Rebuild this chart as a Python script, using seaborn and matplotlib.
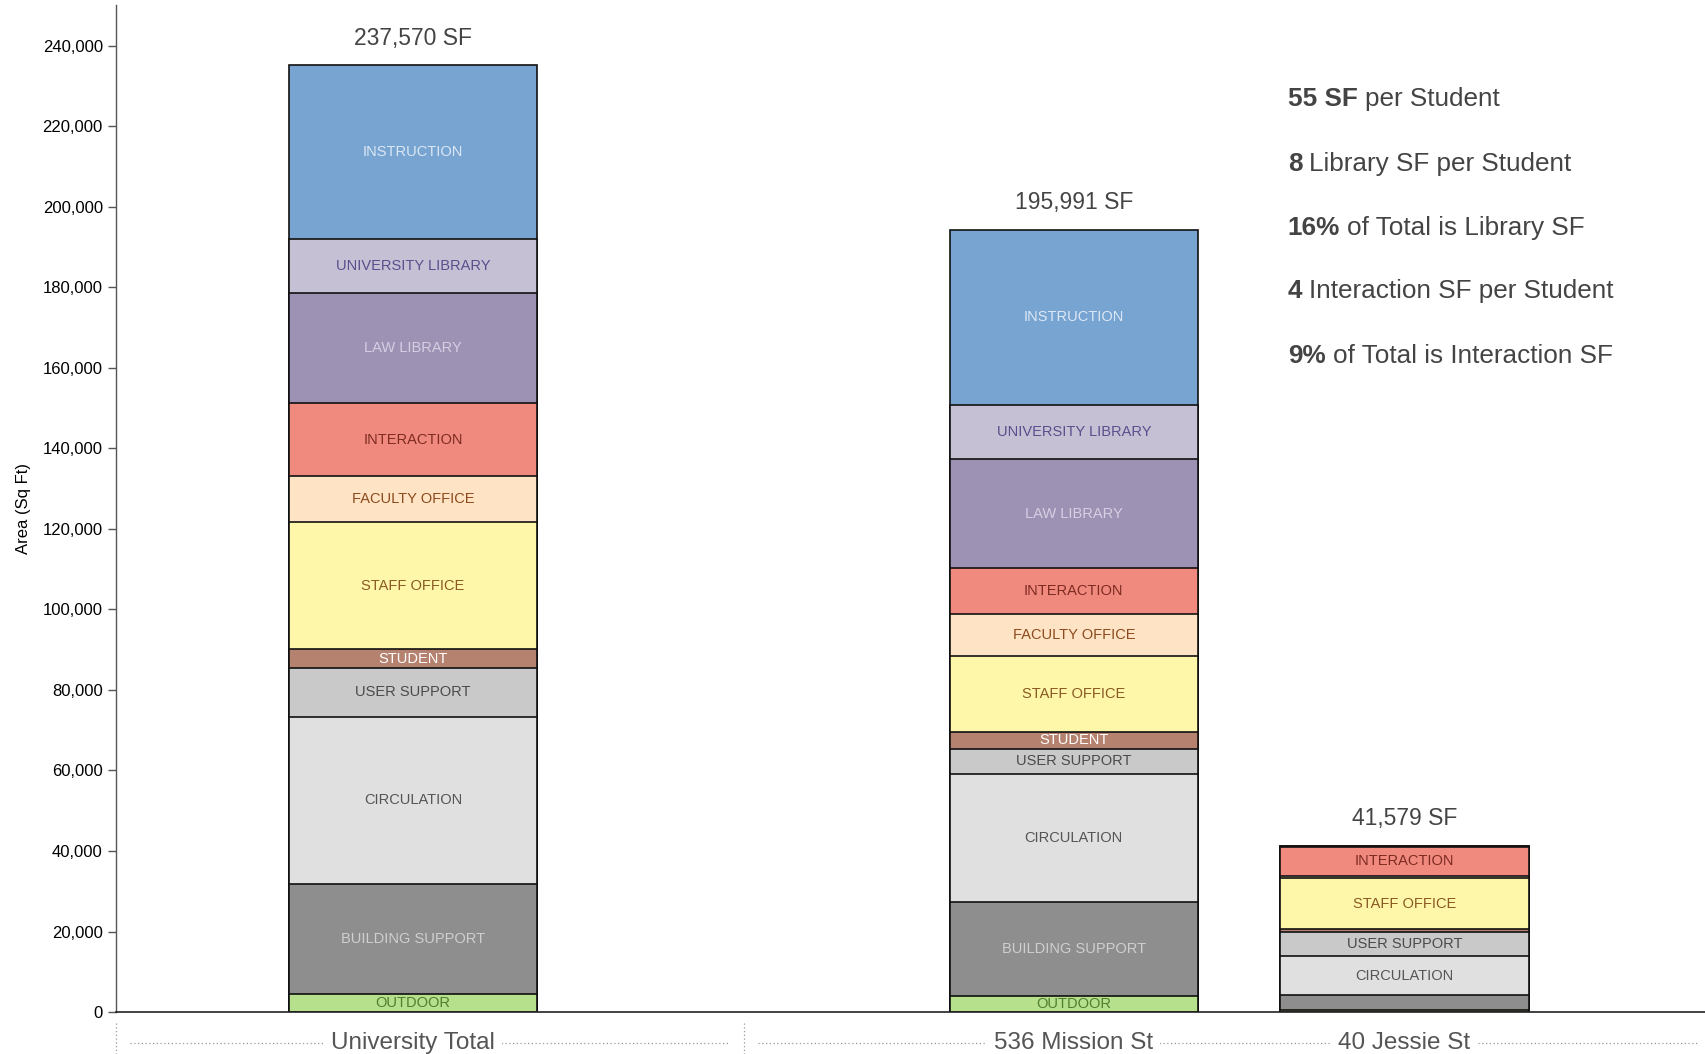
import numpy as np
import pandas as pd
import matplotlib
matplotlib.use("Agg")
import matplotlib.pyplot as plt
from matplotlib.lines import Line2D
import matplotlib.transforms as mtransforms
import seaborn as sns

# data (square feet)
buildings = ["University Total", "536 Mission St", "40 Jessie St"]
total_text = ["237,570 SF", "195,991 SF", "41,579 SF"]
categories = ["OUTDOOR", "BUILDING SUPPORT", "CIRCULATION", "USER SUPPORT", "STUDENT",
              "STAFF OFFICE", "FACULTY OFFICE", "INTERACTION", "LAW LIBRARY",
              "UNIVERSITY LIBRARY", "INSTRUCTION"]
university = [4600, 27300, 41400, 12200, 4600, 31600, 11400, 18100, 27300, 13500, 43200]
mission = [4100, 23200, 31900, 6200, 4100, 18900, 10500, 11400, 27000, 13500, 43500]
jessie = [500, 3700, 9600, 6000, 800, 12700, 600, 7100, 0, 300, 0]
stats_bold = ["55 SF", "8", "16%", "4", "9%"]
stats_rest = ["per Student", "Library SF per Student", "of Total is Library SF",
              "Interaction SF per Student", "of Total is Interaction SF"]
yticks = list(range(0, 240001, 20000))

# style
seg_colors = ["#b6e08c", "#8e8e8e", "#e0e0e0", "#c9c9c9", "#b5826f", "#fef6a9",
              "#fee4c4", "#f08a7e", "#9d92b3", "#c6c0d5", "#77a4d0"]
txt_colors = ["#4f7f2f", "#cfcfcf", "#555555", "#4a4a4a", "#ffffff", "#8a5a24",
              "#8c4a1e", "#7d2b22", "#d5cfe3", "#5c4e8c", "#dce8f6"]
bar_pos = [1.197, 3.86, 5.193]
label_min = 4000

sns.set_style("white")
plt.rcParams["font.family"] = ["Liberation Sans", "DejaVu Sans"]

values = np.array([university, mission, jessie])
cum = values.cumsum(axis=1)

fig = plt.figure(figsize=(17.06, 10.54), dpi=100)
ax = fig.add_axes([0.068, 0.0398, 0.932, 0.955])

width = 1.0 / np.diff(sorted(bar_pos)).min()
# stacked bars: draw cumulative tops from the top layer down
for i in reversed(range(len(categories))):
    df = pd.DataFrame({"x": bar_pos, "y": cum[:, i]})
    sns.barplot(data=df, x="x", y="y", native_scale=True, orient="x", width=width,
                color=seg_colors[i], saturation=1, edgecolor="#111111", linewidth=1.2,
                errorbar=None, ax=ax)

# segment labels
for b in range(len(buildings)):
    bottom = 0
    for i, cat in enumerate(categories):
        v = values[b, i]
        if v >= label_min:
            ax.text(bar_pos[b], bottom + v / 2, cat, ha="center", va="center",
                    fontsize=10.5, color=txt_colors[i])
        bottom += v
    ax.text(bar_pos[b], cum[b, -1] + 3800, total_text[b], ha="center", va="bottom",
            fontsize=16.5, color="#444444")

ax.set_xlim(0, 6.408)
ax.set_ylim(0, 250000)
ax.set_yticks(yticks)
ax.set_yticklabels([f"{t:,}" for t in yticks], fontsize=12, color="black")
ax.set_xticks([])
ax.set_xlabel("")
ax.set_ylabel("Area (Sq Ft)", fontsize=12, color="black", labelpad=8)
ax.tick_params(axis="y", length=6, width=1, color="#555555", direction="out", left=True)
sns.despine(ax=ax, top=True, right=True)
ax.spines["left"].set_color("#555555")
ax.spines["left"].set_linewidth(1)
ax.spines["bottom"].set_color("#222222")
ax.spines["bottom"].set_linewidth(1.2)

# building labels below axis with dotted group rules
trans = mtransforms.blended_transform_factory(ax.transData, ax.transAxes)
ylab = -0.031
dot = dict(color="#999999", lw=0.9, linestyle=(0, (1, 2)), transform=trans, clip_on=False)
ax.add_line(Line2D([0.057, 2.465], [ylab, ylab], **dot))
ax.add_line(Line2D([2.588, 6.373], [ylab, ylab], **dot))
for xv in [0.0, 2.53]:
    ax.add_line(Line2D([xv, xv], [-0.011, -0.045], **dot))
for b, name in enumerate(buildings):
    ax.text(bar_pos[b], ylab, name, transform=trans, ha="center", va="center",
            fontsize=17.5, color="#555555", clip_on=False,
            bbox=dict(facecolor="white", edgecolor="none", pad=5))

# stats block on the right
stat_y = [0.907, 0.843, 0.779, 0.716, 0.652]
for yb, bold, rest in zip(stat_y, stats_bold, stats_rest):
    t = ax.text(0.737, yb, bold, transform=ax.transAxes, ha="left", va="center",
                fontsize=18.8, fontweight="bold", color="#444444")
    ax.annotate(rest, xy=(1, 0.5), xycoords=t, xytext=(5, 0), textcoords="offset points",
                ha="left", va="center", fontsize=18.8, color="#444444")

fig.savefig("out.png", dpi=100)
